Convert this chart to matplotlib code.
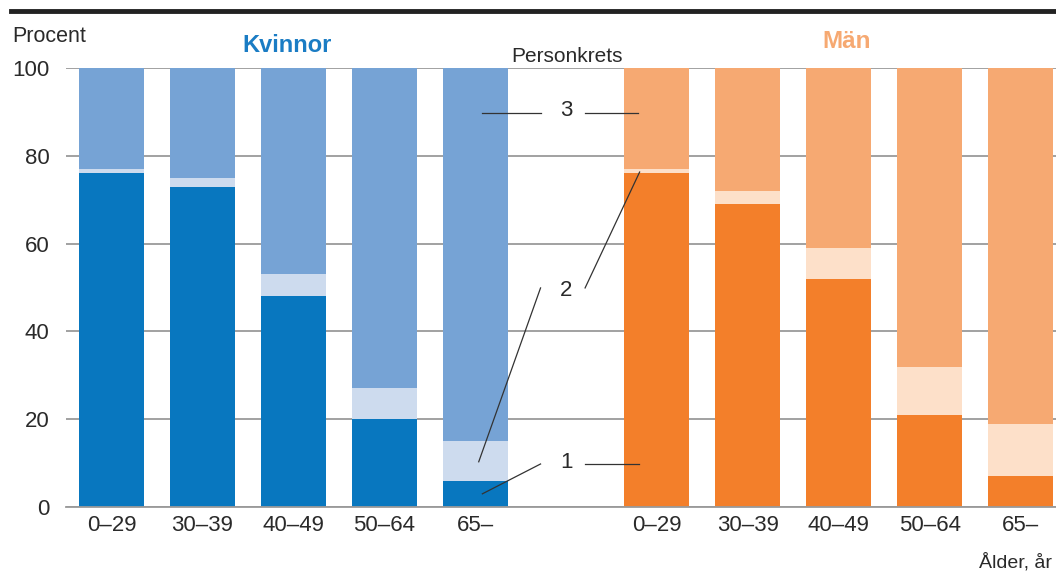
import matplotlib
matplotlib.use("Agg")
import matplotlib.pyplot as plt
import numpy as np

plt.rcParams['font.family'] = ['Liberation Sans', 'DejaVu Sans']

age_groups = ["0–29", "30–39", "40–49", "50–64", "65–"]
women_1 = [76, 73, 48, 20, 6]
women_2 = [1, 2, 5, 7, 9]
women_3 = [23, 25, 47, 73, 85]
men_1 = [76, 69, 52, 21, 7]
men_2 = [1, 3, 7, 11, 12]
men_3 = [23, 28, 41, 68, 81]
yticks = [0, 20, 40, 60, 80, 100]

blue = ["#0877bf", "#cddbee", "#76a3d5"]
orange = ["#f37f2a", "#fde0c9", "#f6a972"]

tc = "#2a2a2a"

fig = plt.figure(figsize=(10.56, 5.74), dpi=100)
ax = fig.add_axes([66/1056, 1-507/574, 1-66/1056, (507-68)/574])

xw = np.arange(5)
xm = np.arange(5) + 6
w = 0.715

def stack(x, s1, s2, s3, cols):
    s1 = np.array(s1); s2 = np.array(s2); s3 = np.array(s3)
    ax.bar(x, s1, w, color=cols[0], zorder=2)
    ax.bar(x, s2, w, bottom=s1, color=cols[1], zorder=2)
    ax.bar(x, s3, w, bottom=s1 + s2, color=cols[2], zorder=2)

stack(xw, women_1, women_2, women_3, blue)
stack(xm, men_1, men_2, men_3, orange)

ax.set_xlim(-0.5, 10.39)
ax.set_ylim(0, 100)
ax.set_yticks(yticks)
ax.set_yticklabels([str(v) for v in yticks], fontsize=16, color=tc)
ax.set_xticks(list(xw) + list(xm))
ax.set_xticklabels(age_groups + age_groups, fontsize=16, color=tc)
ax.tick_params(axis='both', length=0)
ax.tick_params(axis='y', pad=12)
ax.tick_params(axis='x', pad=6)
ax.yaxis.grid(True, color="#9a9a9a", linewidth=1.3, zorder=0)
ax.set_axisbelow(True)
for s in ["top", "right", "left"]:
    ax.spines[s].set_visible(False)
ax.spines["bottom"].set_color("#9a9a9a")
ax.spines["bottom"].set_linewidth(1.3)

# annotation lines
lc = "#333333"
lw = 0.9
ax.text(5.0, 90.3, "3", ha="center", va="center", fontsize=16, color=tc)
ax.plot([4.08, 4.72], [89.7, 89.7], color=lc, lw=lw, zorder=3)
ax.plot([5.21, 5.79], [89.7, 89.7], color=lc, lw=lw, zorder=3)
ax.text(5.0, 49.4, "2", ha="center", va="center", fontsize=16, color=tc)
ax.plot([4.72, 4.04], [49.9, 10.3], color=lc, lw=lw, zorder=3)
ax.plot([5.21, 5.81], [49.9, 76.3], color=lc, lw=lw, zorder=3)
ax.text(5.0, 10.2, "1", ha="center", va="center", fontsize=16, color=tc)
ax.plot([4.72, 4.08], [9.8, 3.0], color=lc, lw=lw, zorder=3)
ax.plot([5.21, 5.80], [9.8, 9.8], color=lc, lw=lw, zorder=3)

# header texts
fig.text(12/1056, 1-37/574, "Procent", fontsize=15.5, color=tc, ha="left", va="center")
fig.text(287/1056, 1-45/574, "Kvinnor", fontsize=17, fontweight="bold", color="#1a7cc4", ha="center", va="center")
fig.text(847/1056, 1-42/574, "Män", fontsize=17.5, fontweight="bold", color="#f6a972", ha="center", va="center")
fig.text(567/1056, 1-56/574, "Personkrets", fontsize=15, color=tc, ha="center", va="center")
fig.text(1052/1056, 1-562/574, "Ålder, år", fontsize=14, color=tc, ha="right", va="center")

# top rule
fig.add_artist(plt.Line2D([11/1056, 1.0], [1-11/574, 1-11/574], color="#222222", linewidth=3.5))

fig.savefig("out.png", dpi=100)
